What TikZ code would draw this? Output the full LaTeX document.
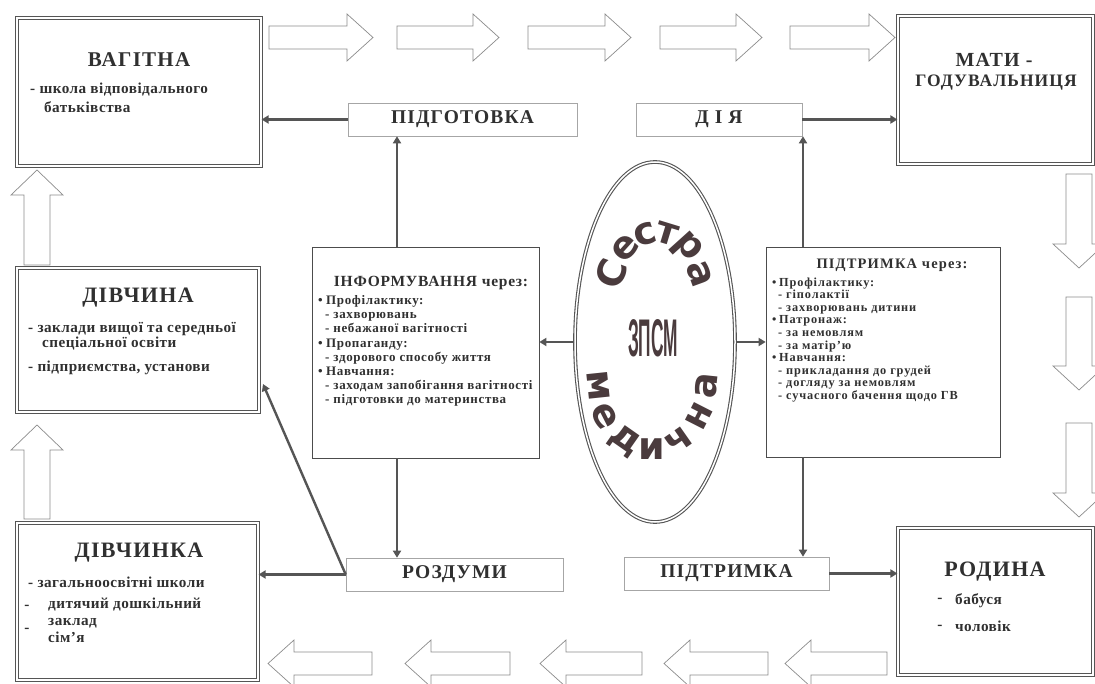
\documentclass[tikz,border=0pt]{standalone}
\usepackage{fontspec}
\usepackage{graphicx}
\setmainfont{Liberation Serif}
\newfontfamily\arialf{Liberation Sans}
\newfontfamily\heavyf{DejaVu Sans}
\newfontfamily\lsC[LetterSpace=3]{Liberation Serif}
\newfontfamily\lsD[LetterSpace=5]{Liberation Serif}
\newfontfamily\lsF[LetterSpace=6]{Liberation Serif}
\newfontfamily\lsG[LetterSpace=7]{Liberation Serif}
\newfontfamily\lsE[LetterSpace=8]{Liberation Serif}
\usetikzlibrary{arrows.meta,shapes.geometric,calc}
\definecolor{txt}{HTML}{303030}
\definecolor{ln}{HTML}{555555}
\definecolor{arw}{HTML}{8C8C8C}
\definecolor{eltx}{HTML}{4A3B3D}
\begin{document}
\begin{tikzpicture}[x=1pt,y=-1pt,
  bigbox/.style={draw=ln, double=white, double distance=1.4pt, line width=1.1pt, inner sep=0pt},
  smallbox/.style={draw=gray!70, line width=0.6pt, inner sep=0pt, fill=white, minimum height=33pt, font=\lsF\fontsize{19.5}{19.5}\selectfont\bfseries, text=txt},
  listbox/.style={draw=gray!60!black, line width=0.7pt, inner sep=0pt},
  conn/.style={draw=ln, line width=2.4pt, -{Triangle[length=7pt,width=8pt]}},
  blockar/.style={draw=arw, line width=0.7pt, fill=white, line join=miter},
  title/.style={font=\lsF\fontsize{21}{21}\selectfont\bfseries, text=txt, inner sep=0pt},
  body/.style={font=\lsC\fontsize{15.2}{19}\selectfont\bfseries, text=txt, align=left, inner sep=0pt, anchor=north west},
  small/.style={font=\lsD\fontsize{13}{14.1}\selectfont\bfseries, text=txt, align=left, inner sep=0pt, anchor=north west},
  smaller/.style={font=\lsG\fontsize{12.3}{12.6}\selectfont\bfseries, text=txt, align=left, inner sep=0pt, anchor=north west},
  arcl/.style={font=\heavyf\bfseries\fontsize{38}{38}\selectfont, text=eltx, inner sep=0pt},
 ]
\useasboundingbox[fill=white] (0,0) rectangle (1095,684);

% ---- block arrows (cycle) ----
\foreach \a/\b in {269/373,397/499,528/631,660/762,790/895}
  \draw[blockar] (\a,26) -- (\b-26,26) -- (\b-26,14) -- (\b,37.5) -- (\b-26,61) -- (\b-26,49) -- (\a,49) -- cycle;
\foreach \a/\b in {174/268,297/390,423/517}
  \draw[blockar] (1066,\a) -- (1066,\b-24) -- (1053,\b-24) -- (1079,\b) -- (1105,\b-24) -- (1092,\b-24) -- (1092,\a) -- cycle;
\foreach \t/\r in {268/372,405/510,540/642,664/768,785/887}
  \draw[blockar] (\r,652) -- (\t+26,652) -- (\t+26,640) -- (\t,663.5) -- (\t+26,687) -- (\t+26,675) -- (\r,675) -- cycle;
\foreach \t/\bt in {170/265,425/519}
  \draw[blockar] (24,\bt) -- (24,\t+25) -- (11,\t+25) -- (37,\t) -- (63,\t+25) -- (50,\t+25) -- (50,\bt) -- cycle;

% ---- big boxes ----
\node[bigbox, minimum width=244pt, minimum height=148pt] (vag) at (139,92) {};
\node[bigbox, minimum width=195pt, minimum height=148pt] (mati) at (995.5,90) {};
\node[bigbox, minimum width=242pt, minimum height=144pt] (div1) at (138,340) {};
\node[bigbox, minimum width=241pt, minimum height=157pt] (div2) at (137.5,601.5) {};
\node[bigbox, minimum width=195pt, minimum height=147pt] (rod) at (995.5,601.5) {};

\node[title] (vagT) at (139,60) {ВАГІТНА};
\node[body] (vagB) at (30,83) {- школа відповідального\\\hspace*{14pt}батьківства};

\node[title, font=\lsF\fontsize{20}{20}\selectfont\bfseries] (matiT1) at (994,60) {МАТИ -};
\node[title, font=\lsF\fontsize{17.5}{17.5}\selectfont\bfseries] (matiT2) at (996,83) {ГОДУВАЛЬНИЦЯ};

\node[title, font=\lsF\fontsize{22}{22}\selectfont\bfseries] (div1T) at (138,298) {ДІВЧИНА};
\node[body, font=\lsC\fontsize{15.2}{15}\selectfont\bfseries] (div1B) at (28,322.5) {- заклади вищої та середньої\\\hspace*{14pt}спеціальної освіти\\[9pt]- підприємства, установи};

\node[title, font=\lsF\fontsize{22}{22}\selectfont\bfseries] (div2T) at (139,553) {ДІВЧИНКА};
\node[body] (div2B1) at (28,576.5) {- загальноосвітні школи};
\node[body, font=\lsC\fontsize{15.2}{17}\selectfont\bfseries] (div2B2) at (48,597.5) {дитячий дошкільний\\заклад\\сім’я};
\node[body, anchor=center] (div2d1) at (27,607) {-};
\node[body, anchor=center] (div2d2) at (27,630) {-};

\node[title, font=\lsF\fontsize{22}{22}\selectfont\bfseries] (rodT) at (995,572) {РОДИНА};
\node[body, font=\lsC\fontsize{15.2}{27}\selectfont\bfseries] (rodB) at (955,593.5) {бабуся\\чоловік};
\node[body, anchor=center] (rodd1) at (940,600) {-};
\node[body, anchor=center] (rodd2) at (940,627) {-};

% ---- small label boxes ----
\node[smallbox, minimum width=229pt] (podg) at (462.5,119.5) {ПІДГОТОВКА};
\node[smallbox, minimum width=166pt] (diya) at (719,119.5) {Д І Я};
\node[smallbox, minimum width=217pt] (rozd) at (454.5,574.5) {РОЗДУМИ};
\node[smallbox, minimum width=205pt] (pidb) at (726.5,573.5) {ПІДТРИМКА};

% ---- list boxes ----
\node[listbox, minimum width=227pt, minimum height=211pt] (inf) at (425.5,352.5) {};
\node[title, font=\lsD\fontsize{15.5}{15.5}\selectfont\bfseries] (infT) at (431,283) {ІНФОРМУВАННЯ через:};
\node[small] (infB) at (318,295.5) {\makebox[8pt][l]{•}Профілактику:\\
\hspace*{7pt}- захворювань\\
\hspace*{7pt}- небажаної вагітності\\
\makebox[8pt][l]{•}Пропаганду:\\
\hspace*{7pt}- здорового способу життя\\
\makebox[8pt][l]{•}Навчання:\\
\hspace*{7pt}- заходам запобігання вагітності\\
\hspace*{7pt}- підготовки до материнства};

\node[listbox, minimum width=234pt, minimum height=210pt] (pid) at (883,352) {};
\node[title, font=\lsE\fontsize{14.5}{14.5}\selectfont\bfseries] (pidT) at (892,265) {ПІДТРИМКА через:};
\node[smaller] (pidB) at (772,277.4) {\makebox[7pt][l]{•}Профілактику:\\
\hspace*{6pt}- гіполактії\\
\hspace*{6pt}- захворювань дитини\\
\makebox[7pt][l]{•}Патронаж:\\
\hspace*{6pt}- за немовлям\\
\hspace*{6pt}- за матір’ю\\
\makebox[7pt][l]{•}Навчання:\\
\hspace*{6pt}- прикладання до грудей\\
\hspace*{6pt}- догляду за немовлям\\
\hspace*{6pt}- сучасного бачення щодо ГВ};

% ---- central ellipse ----
\node[ellipse, draw=ln, double=white, double distance=1.5pt, line width=1.1pt, minimum width=160pt, minimum height=360pt, inner sep=0pt] (ell) at (655,342) {};
\node[inner sep=0pt, text=eltx] (zpsm) at (653,338) {\resizebox{50pt}{37pt}{\arialf\bfseries ЗПСМ}};
% "Сестра" along the upper arc
\node[arcl, rotate=70]  (s1) at (611,274) {С};
\node[arcl, rotate=48]  (s2) at (625,248) {е};
\node[arcl, rotate=17]  (s3) at (645,234) {с};
\node[arcl, rotate=-17] (s4) at (667,234) {т};
\node[arcl, rotate=-48] (s5) at (687,248) {р};
\node[arcl, rotate=-70] (s6) at (700,274) {а};
% "медична" along the lower arc
\node[arcl, rotate=-84] (m1) at (598,386) {м};
\node[arcl, rotate=-63] (m2) at (605,416) {е};
\node[arcl, rotate=-35] (m3) at (625,441) {д};
\node[arcl, rotate=0]   (m4) at (652,449) {и};
\node[arcl, rotate=35]  (m5) at (679,441) {ч};
\node[arcl, rotate=63]  (m6) at (699,416) {н};
\node[arcl, rotate=84]  (m7) at (707,386) {а};

% ---- connectors ----
\coordinate (xl) at (397,0);
\coordinate (xr) at (803,0);
\coordinate (d1t) at (263,384);
\draw[conn] (podg.west) -- (podg.west -| vag.east);
\draw[conn] (diya.east) -- (diya.east -| mati.west);
\draw[conn] (inf.north -| xl) -- (podg.south -| xl);
\draw[conn] (inf.south -| xl) -- (rozd.north -| xl);
\draw[conn] (ell.west) -- (ell.west -| inf.east);
\draw[conn] (ell.east) -- (ell.east -| pid.west);
\draw[conn] (pid.north -| xr) -- (diya.south -| xr);
\draw[conn] (pid.south -| xr) -- (pidb.north -| xr);
\draw[conn] (rozd.west) -- (rozd.west -| div2.east);
\draw[conn] (rozd.west) -- (d1t);
\draw[conn] (pidb.east) -- (pidb.east -| rod.west);
\end{tikzpicture}
\end{document}
